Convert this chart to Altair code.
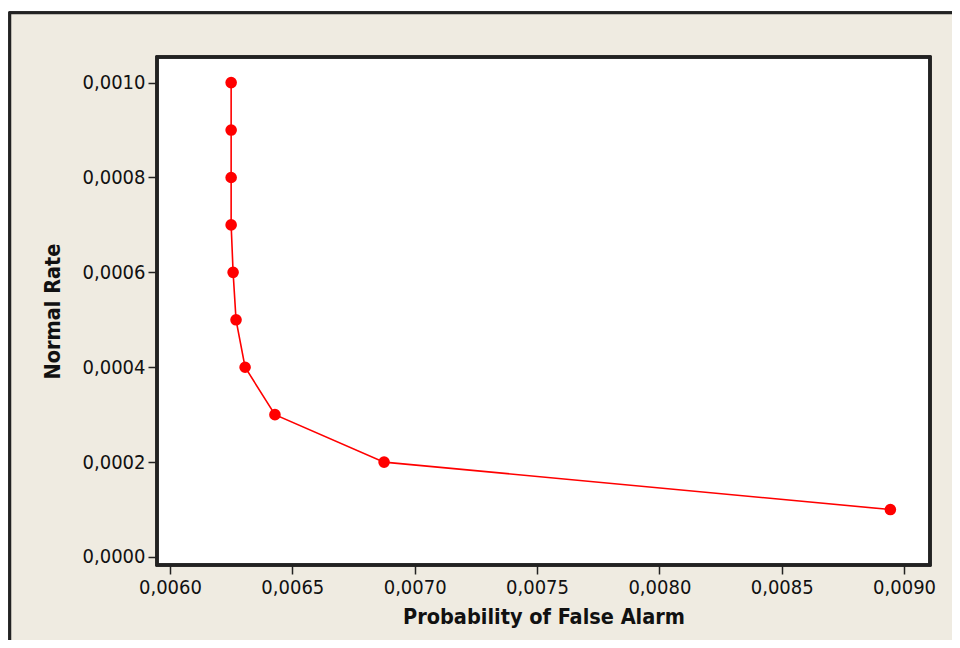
import altair as alt
import pandas as pd

false_alarm = [0.006250, 0.006250, 0.006250, 0.006250, 0.006258, 0.006270,
               0.006307, 0.006429, 0.006875, 0.008944]
normal_rate = [0.0010, 0.0009, 0.0008, 0.0007, 0.0006, 0.0005,
               0.0004, 0.0003, 0.0002, 0.0001]
x_ticks = [0.0060, 0.0065, 0.0070, 0.0075, 0.0080, 0.0085, 0.0090]
y_ticks = [0.0000, 0.0002, 0.0004, 0.0006, 0.0008, 0.0010]

df = pd.DataFrame({"x": false_alarm, "y": normal_rate})

W, H = 773, 508
FONT = "DejaVu Sans Condensed"
BEIGE = "#EFEBE1"
label_expr = "replace(format(datum.value, '.4f'), '.', ',')"

xs = alt.X("x:Q", scale=alt.Scale(domain=[0.005947, 0.009106], nice=False, zero=False),
           axis=alt.Axis(values=x_ticks, labelExpr=label_expr, title="Probability of False Alarm",
                         grid=False, domain=False, tickSize=9, tickColor="#222", tickWidth=1.5,
                         labelFont=FONT, labelFontSize=20, labelColor="#111", labelPadding=3,
                         titleFont=FONT, titleFontSize=21.5, titleFontWeight="bold", titleColor="#111",
                         titlePadding=9, zindex=2))
ys = alt.Y("y:Q", scale=alt.Scale(domain=[-0.0000169, 0.001054], nice=False, zero=False),
           axis=alt.Axis(values=y_ticks, labelExpr=label_expr, title="Normal Rate",
                         grid=False, domain=False, tickSize=9, tickColor="#222", tickWidth=1.5,
                         labelFont=FONT, labelFontSize=20, labelColor="#111", labelPadding=3,
                         titleFont=FONT, titleFontSize=21.5, titleFontWeight="bold", titleColor="#111",
                         titlePadding=18, zindex=2))

frame = alt.Chart(df).mark_rect(fill=BEIGE, stroke="#222", strokeWidth=2.5).encode(
    x=alt.value(-147), x2=alt.value(W + 40), y=alt.value(-44), y2=alt.value(H + 90))
plot_bg = alt.Chart(df).mark_rect(fill="white").encode(
    x=alt.value(0), x2=alt.value(W), y=alt.value(0), y2=alt.value(H))
plot_border = alt.Chart(df).mark_rect(fillOpacity=0, stroke="#222", strokeWidth=2.5).encode(
    x=alt.value(0), x2=alt.value(W), y=alt.value(0), y2=alt.value(H))
line = alt.Chart(df).mark_line(color="#FF0000", strokeWidth=1.6).encode(x=xs, y=ys, order=alt.Order("y:Q"))
pts = alt.Chart(df).mark_circle(color="#FF0000", opacity=1, size=135).encode(x=xs, y=ys)

chart = alt.layer(frame, plot_bg, line, pts, plot_border).properties(
    width=W, height=H,
    autosize=alt.AutoSizeParams(type="none"),
    padding={"left": 149, "top": 49, "right": 22, "bottom": 75},
    background="white",
).configure_view(stroke=None, fill="white")

chart.save("out.html", embed_options={"renderer": "svg", "actions": False})
